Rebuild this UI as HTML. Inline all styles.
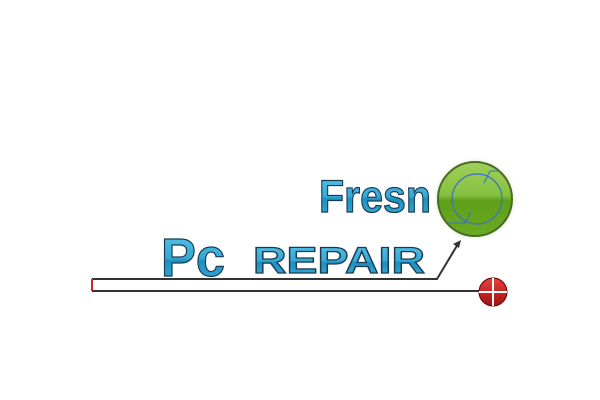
<!DOCTYPE html>
<html><head><meta charset="utf-8"><style>html,body{margin:0;padding:0;background:#fff}svg{display:block}</style></head>
<body>
<svg width="600" height="400" viewBox="0 0 600 400" xmlns="http://www.w3.org/2000/svg">
<defs>
<linearGradient id="tg" x1="0" y1="0" x2="0" y2="1">
<stop offset="0" stop-color="#5cc4ea"/><stop offset="0.5" stop-color="#36a9d6"/><stop offset="0.55" stop-color="#1d8fc0"/><stop offset="1" stop-color="#3db2de"/>
</linearGradient>
<radialGradient id="glow"><stop offset="0.8" stop-color="#c8e0a0"/><stop offset="1" stop-color="#fff" stop-opacity="0"/></radialGradient>
<linearGradient id="gg" x1="0" y1="0" x2="0" y2="1">
<stop offset="0" stop-color="#9fd058"/><stop offset="0.45" stop-color="#86c040"/><stop offset="0.52" stop-color="#5ea018"/><stop offset="1" stop-color="#6aaa22"/>
</linearGradient>
<linearGradient id="rg" x1="0" y1="0" x2="0" y2="1">
<stop offset="0" stop-color="#e84040"/><stop offset="1" stop-color="#a01010"/>
</linearGradient>
</defs>
<circle cx="475" cy="199" r="43" fill="url(#glow)"/>
<circle cx="475" cy="199" r="37" fill="url(#gg)" stroke="#4a6a28" stroke-width="2"/>
<circle cx="477" cy="199" r="25" fill="none" stroke="#3a70c8" stroke-width="1.2"/>
<path d="M484 183 L490 171 L498 171 M471 212 L465 223 L448 223" fill="none" stroke="#3a70c8" stroke-width="1"/>
<text x="319" y="212" font-family="Liberation Sans, sans-serif" font-weight="bold" font-size="45" fill="url(#tg)" stroke="#1a3a50" stroke-width="1.2" textLength="112" lengthAdjust="spacingAndGlyphs">Fresn</text>
<text x="161" y="276" font-family="Liberation Sans, sans-serif" font-weight="bold" font-size="54" fill="url(#tg)" stroke="#1a3a50" stroke-width="1.2" textLength="64" lengthAdjust="spacingAndGlyphs">Pc</text>
<text x="253" y="273" font-family="Liberation Sans, sans-serif" font-weight="bold" font-size="37" fill="url(#tg)" stroke="#1a3a50" stroke-width="1.2" textLength="172" lengthAdjust="spacingAndGlyphs">REPAIR</text>
<polyline points="92,279 437,279 458,244" fill="none" stroke="#333" stroke-width="2"/>
<polygon points="461,240 453,244 459,248" fill="#333"/>
<line x1="92" y1="291" x2="482" y2="291" stroke="#333" stroke-width="2"/>
<line x1="92" y1="279" x2="92" y2="291" stroke="#d02020" stroke-width="2"/>
<circle cx="493" cy="292" r="14" fill="url(#rg)" stroke="#600" stroke-width="1"/>
<line x1="493" y1="278" x2="493" y2="306" stroke="#fff" stroke-width="2"/>
<line x1="479" y1="292" x2="507" y2="292" stroke="#fff" stroke-width="2"/>
</svg>
</body></html>
